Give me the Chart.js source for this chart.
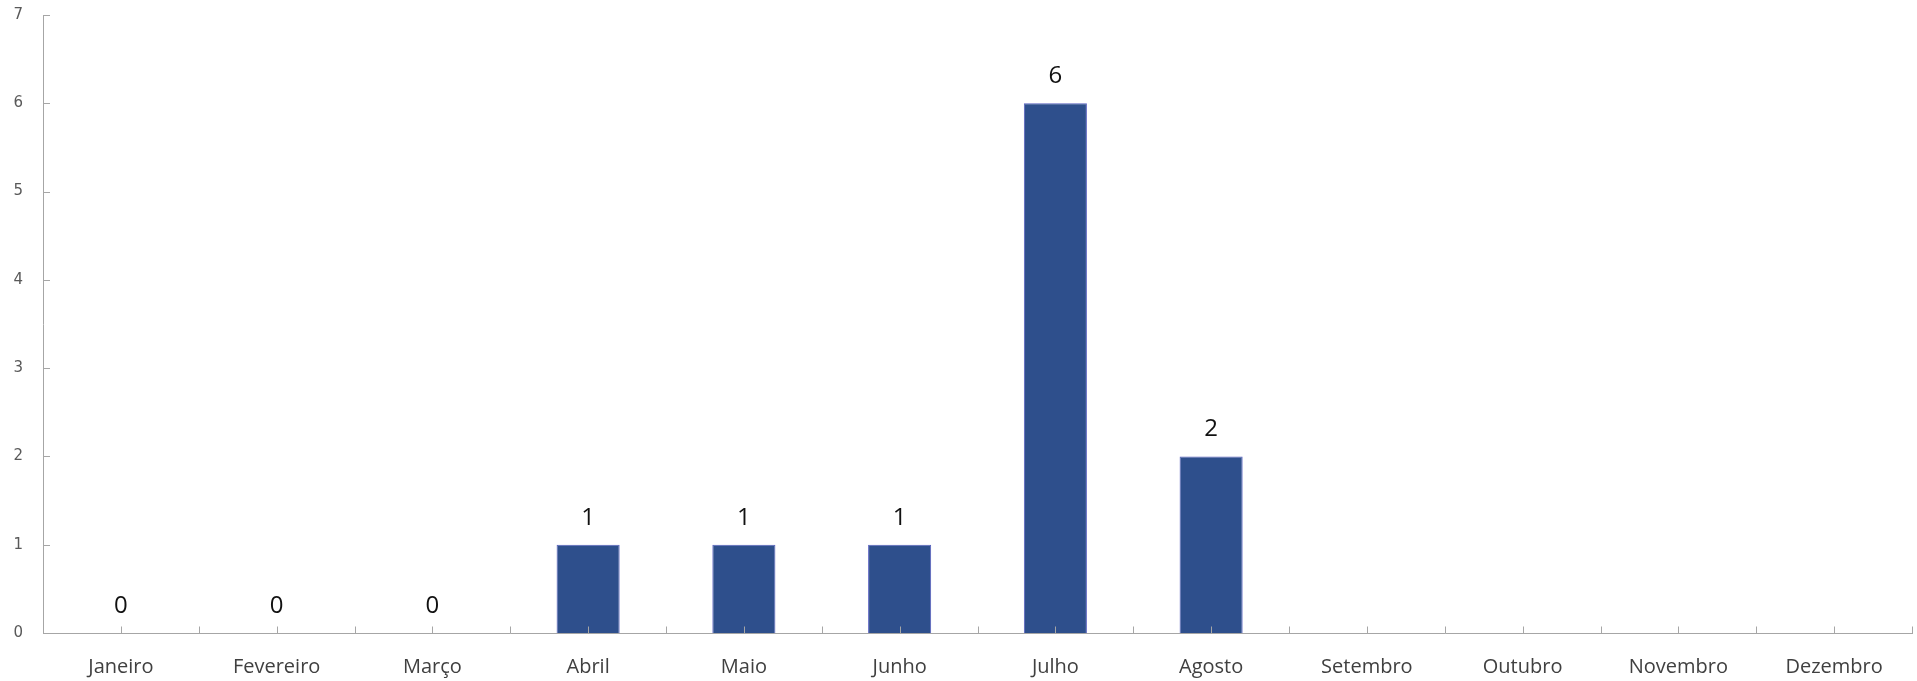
<!DOCTYPE html>
<html>
<head>
<meta charset="utf-8">
<script src="https://cdn.jsdelivr.net/npm/chart.js@4/dist/chart.umd.min.js"></script>
<style>
    html, body { margin: 0; padding: 0; background: #fff; }
    #wrap { width: 1917px; height: 681px; position: relative; }
</style>
</head>
<body>
<div id="wrap"><canvas id="chart"></canvas></div>
<script>
// === Gráfico mensal (barras) ===
const months = ['Janeiro', 'Fevereiro', 'Março', 'Abril', 'Maio', 'Junho',
    'Julho', 'Agosto', 'Setembro', 'Outubro', 'Novembro', 'Dezembro'];
const counts = [0, 0, 0, 1, 1, 1, 6, 2, null, null, null, null];
const yTicks = [0, 1, 2, 3, 4, 5, 6, 7];

const axisGray = '#a6a6a6';

// rótulos de valor por cima das barras
const valueLabels = {
    id: 'valueLabels',
    afterDatasetsDraw(chart) {
        const { ctx } = chart;
        const meta = chart.getDatasetMeta(0);
        ctx.save();
        ctx.font = '24px "Open Sans"';
        ctx.fillStyle = '#111';
        ctx.textAlign = 'center';
        ctx.textBaseline = 'middle';
        meta.data.forEach((bar, i) => {
            const v = counts[i];
            if (v == null) return;
            ctx.fillText(String(v), bar.x, bar.y - 27);
        });
        ctx.restore();
    },
};

// marcas dos eixos viradas para dentro (estilo Excel)
const innerTicks = {
    id: 'innerTicks',
    afterDraw(chart) {
        const { ctx, scales: { x, y } } = chart;
        ctx.save();
        ctx.strokeStyle = axisGray;
        ctx.lineWidth = 1;
        ctx.beginPath();
        y.ticks.forEach((t) => {
            const py = Math.round(y.getPixelForValue(t.value)) + 0.5;
            ctx.moveTo(x.left, py);
            ctx.lineTo(x.left + 7, py);
        });
        const base = Math.round(y.getPixelForValue(0)) + 0.5;
        for (let i = 0; i <= months.length * 2; i++) {
            const px = Math.round(x.getPixelForValue(i / 2 - 0.5)) + 0.5;
            ctx.moveTo(px, base);
            ctx.lineTo(px, base - 7);
        }
        ctx.stroke();
        ctx.restore();
    },
};

new Chart(document.getElementById('chart'), {
    type: 'bar',
    data: {
        labels: months,
        datasets: [
            {
                data: counts,
                backgroundColor: '#2e4f8c',
                borderColor: '#5860c0',
                borderWidth: 1,
                categoryPercentage: 1,
                barPercentage: 0.405,
            },
        ],
    },
    options: {
        responsive: true,
        maintainAspectRatio: false,
        animation: false,
        layout: { padding: { top: 15, right: 5, left: 0, bottom: 0 } },
        plugins: {
            legend: { display: false },
            tooltip: { enabled: false },
        },
        scales: {
            x: {
                grid: { display: false, drawTicks: false },
                border: { display: true, color: axisGray, width: 1 },
                ticks: {
                    color: '#404040',
                    font: { family: 'Open Sans', size: 20 },
                    padding: 22,
                    maxRotation: 0,
                    autoSkip: false,
                },
                afterFit: (s) => { s.height = 48; },
            },
            y: {
                min: 0,
                max: 7,
                afterBuildTicks: (s) => { s.ticks = yTicks.map((v) => ({ value: v })); },
                grid: { display: false, drawTicks: false },
                border: { display: true, color: axisGray, width: 1 },
                ticks: {
                    color: '#595959',
                    font: { family: 'DejaVu Sans', size: 15 },
                    padding: 20,
                },
                afterFit: (s) => {
                    s.width = 43;
                    s.paddingTop = 0;
                    s.paddingBottom = 0;
                },
            },
        },
    },
    plugins: [valueLabels, innerTicks],
});
</script>
</body>
</html>
